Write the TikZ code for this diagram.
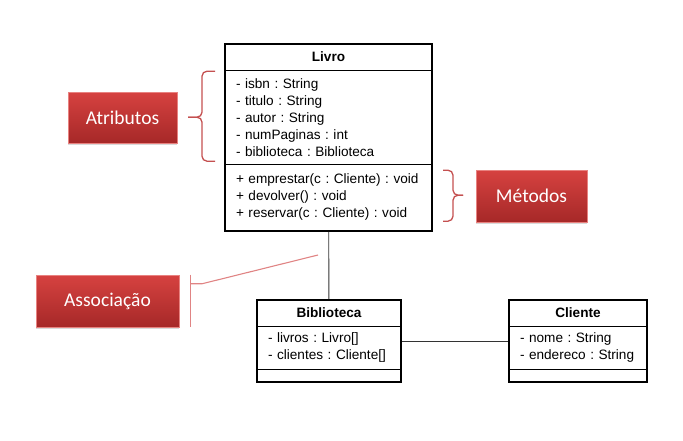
\documentclass[tikz,border=0pt]{standalone}
\usepackage{fontspec}
\setmainfont{Liberation Sans}
\newfontfamily\calibri{Carlito}
\frenchspacing
\usepackage{tikz}
\usetikzlibrary{positioning}
\usetikzlibrary{calc}
\usetikzlibrary{shadows}

\definecolor{rotulotopo}{RGB}{214,66,64}
\definecolor{rotulobase}{RGB}{166,40,40}
\definecolor{rotuloborda}{RGB}{232,130,128}
\definecolor{chave}{RGB}{196,80,80}
\definecolor{ligacao}{RGB}{224,132,132}

\begin{document}
\begin{tikzpicture}[x=1pt,y=-1pt,
    classe/.style={draw,line width=1.6pt,inner sep=0pt},
    parte/.style={draw,line width=0.7pt,inner sep=0pt,outer sep=0pt,anchor=north,
      font=\fontsize{13.6}{17}\selectfont},
    titulo/.style={parte,font=\fontsize{13.6}{17}\selectfont\bfseries},
    lista/.style={parte,align=left,inner xsep=11pt,text width=#1},
    rotulo/.style={draw=rotuloborda,line width=0.6pt,top color=rotulotopo,bottom color=rotulobase,
      drop shadow={shadow xshift=0pt,shadow yshift=-2pt,opacity=0.3},
      text=white,font=\calibri\fontsize{19.5}{22}\selectfont},
    chave/.style={draw=chave,line width=1.3pt,rounded corners=5pt},
    assoc/.style={draw=black!80,line width=0.9pt}]
  \useasboundingbox (0,0) rectangle (683,440);

  \node[classe,minimum width=207,minimum height=187] (livro) at (328.5,137.5) {};
  \node[titulo,minimum width=207,minimum height=27] (livrotit) at (livro.north) {Livro};
  \node[lista=185pt,minimum height=94,below=0pt of livrotit] (livroatr) {- isbn : String\\- titulo : String\\- autor : String\\- numPaginas : int\\- biblioteca : Biblioteca};
  \node[lista=185pt,minimum height=66,below=0pt of livroatr] (livromet) {\mbox{+ emprestar(c : Cliente) : void}\\+ devolver() : void\\+ reservar(c : Cliente) : void};
  \node[classe,minimum width=207,minimum height=187] at (livro) {};

  \node[classe,minimum width=144,minimum height=82] (biblioteca) at (329,341) {};
  \node[titulo,minimum width=144,minimum height=27] (bibtit) at (biblioteca.north) {Biblioteca};
  \node[lista=122pt,minimum height=43,below=0pt of bibtit] (bibatr) {- livros : Livro[]\\- clientes : Cliente[]};
  \node[parte,minimum width=144,minimum height=12,below=0pt of bibatr] (bibmet) {};
  \node[classe,minimum width=144,minimum height=82] at (biblioteca) {};

  \node[classe,minimum width=138,minimum height=82] (cliente) at (578,341) {};
  \node[titulo,minimum width=138,minimum height=27] (clitit) at (cliente.north) {Cliente};
  \node[lista=116pt,minimum height=43,below=0pt of clitit] (cliatr) {- nome : String\\\mbox{- endereco : String}};
  \node[parte,minimum width=138,minimum height=12,below=0pt of cliatr] (climet) {};
  \node[classe,minimum width=138,minimum height=82] at (cliente) {};

  \draw[assoc] (livro) -- (biblioteca);
  \draw[assoc] (biblioteca) -- (cliente);

  \node[rotulo,minimum width=109,minimum height=51] (atributos) at (122.5,117.5) {Atributos};
  \node[rotulo,minimum width=111,minimum height=52] (metodos) at (531.5,196) {Métodos};
  \node[rotulo,minimum width=143,minimum height=52] (associacao) at (107.5,301) {Associação};

  \draw[chave] ($(livroatr.north west)+(-10,1)$) -| ($(livroatr.west)+(-23,0)$) -- ++(-14,0);
  \draw[chave] ($(livroatr.south west)+(-10,-3)$) -| ($(livroatr.west)+(-23,0)$) -- ++(-14,0);
  \draw[chave] ($(livromet.north east)+(11,6)$) -| ($(livromet.east)+(21,-2)$) -- ++(10,0);
  \draw[chave] ($(livromet.south east)+(11,-9)$) -| ($(livromet.east)+(21,-2)$) -- ++(10,0);

  \coordinate (ponta) at (318,255);
  \draw[ligacao,line width=1.1pt] ($(associacao.north east)+(11,0)$) -- ($(associacao.south east)+(11,0)$);
  \draw[ligacao,line width=1.1pt] ($(associacao.north east)+(11,9)$) -- ++(12,0) -- (ponta);
\end{tikzpicture}
\end{document}
